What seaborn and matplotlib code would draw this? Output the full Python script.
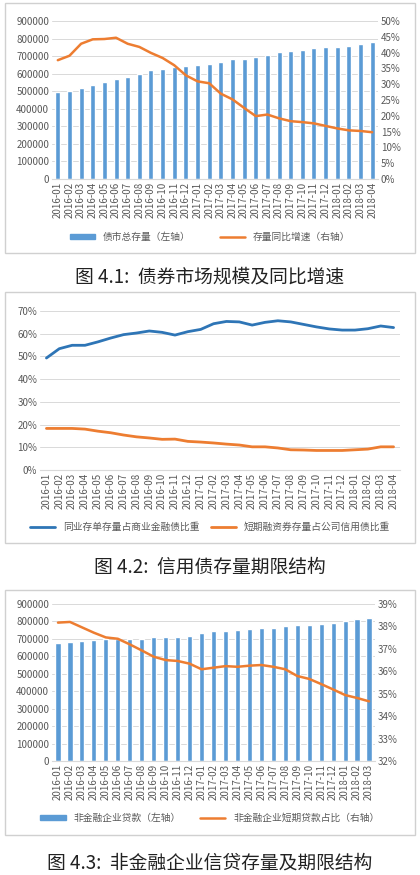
import numpy as np
import pandas as pd
import matplotlib
matplotlib.use('Agg')
import matplotlib.pyplot as plt
import seaborn as sns
from matplotlib.patches import Rectangle, Patch
from matplotlib.lines import Line2D
from matplotlib.ticker import FuncFormatter, MultipleLocator

sns.set_style('white')
plt.rcParams['font.family'] = ['Noto Sans CJK SC', 'DejaVu Sans']

# ---- data ----
months_a = ['2016-01', '2016-02', '2016-03', '2016-04', '2016-05', '2016-06', '2016-07',
            '2016-08', '2016-09', '2016-10', '2016-11', '2016-12', '2017-01', '2017-02',
            '2017-03', '2017-04', '2017-05', '2017-06', '2017-07', '2017-08', '2017-09',
            '2017-10', '2017-11', '2017-12', '2018-01', '2018-02', '2018-03', '2018-04']
months_c = months_a[:-1]

bond_stock = [495000, 502000, 521000, 536000, 555000, 570000, 583000, 598000, 619000, 625000,
              638000, 642000, 651000, 657000, 668000, 682000, 682000, 693000, 708000, 721000,
              731000, 735000, 744000, 754000, 754000, 759000, 769000, 778000]
bond_growth = [37.6, 39.0, 42.8, 44.2, 44.3, 44.7, 42.8, 41.8, 39.9, 38.3, 36.0, 32.8, 30.9, 30.3,
               27.0, 25.2, 22.5, 19.9, 20.4, 19.2, 18.3, 18.0, 17.6, 16.8, 16.0, 15.4, 15.2, 14.8]

ncd_share = [49.3, 53.4, 54.9, 54.9, 56.4, 58.1, 59.6, 60.3, 61.2, 60.6, 59.4, 60.9, 61.9, 64.4,
             65.4, 65.2, 63.8, 65.0, 65.7, 65.2, 64.1, 63.0, 62.1, 61.6, 61.6, 62.2, 63.4, 62.7]
cp_share = [18.3, 18.3, 18.3, 18.0, 17.1, 16.4, 15.4, 14.6, 14.1, 13.5, 13.6, 12.6, 12.3, 11.9,
            11.4, 11.0, 10.2, 10.2, 9.7, 8.9, 8.8, 8.6, 8.6, 8.6, 8.9, 9.2, 10.2, 10.2]

corp_loans = [675000, 684000, 690000, 694000, 698000, 702000, 702000, 702000, 711000, 713000,
              713000, 719000, 734000, 744000, 746000, 751000, 755000, 761000, 765000, 772000,
              778000, 780000, 788000, 790000, 805000, 815000, 820000]
short_share = [38.17, 38.20, 37.96, 37.72, 37.51, 37.45, 37.20, 36.93, 36.65, 36.50, 36.46, 36.34,
               36.09, 36.16, 36.23, 36.20, 36.25, 36.28, 36.20, 36.09, 35.79, 35.66, 35.43, 35.19,
               34.94, 34.81, 34.66]

BAR = '#5B9BD5'
ORANGE = '#ED7D31'
DARKBLUE = '#2E75B6'
GRID = '#D9D9D9'
TXT = '#595959'
FS = 7
W, H = 420, 875

fig = plt.figure(figsize=(W / 100, H / 100), dpi=100)


def fax(left, top, right, bottom):
    return fig.add_axes([left / W, 1 - bottom / H, (right - left) / W, (bottom - top) / H])


def panel(top, bottom):
    fig.add_artist(Rectangle((5 / W, 1 - bottom / H), 410 / W, (bottom - top) / H,
                             transform=fig.transFigure, fill=False, edgecolor='#D0D0D0', lw=1))


def caption(y, s):
    fig.text(0.5, 1 - y / H, s, ha='center', va='center', fontsize=13.5, color='#222222')


def style_axis(ax, labels):
    ax.set_xlim(-0.5, len(labels) - 0.5)
    ax.set_xticks(range(len(labels)))
    ax.set_xticklabels(labels, rotation=90, fontsize=FS, color=TXT)
    ax.tick_params(axis='y', labelsize=FS, colors=TXT, length=0, pad=2)
    ax.tick_params(axis='x', length=0, pad=2)
    ax.grid(axis='y', color=GRID, lw=0.7)
    ax.set_axisbelow(True)
    for s in ['top', 'right', 'left']:
        ax.spines[s].set_visible(False)
    ax.spines['bottom'].set_color(GRID)
    ax.set_xlabel('')
    ax.set_ylabel('')


def style_right(ax, n):
    ax.tick_params(axis='y', labelsize=FS, colors=TXT, length=0, pad=2)
    for s in ax.spines.values():
        s.set_visible(False)
    ax.set_ylabel('')
    ax.set_xlim(-0.5, n - 0.5)


pct0 = FuncFormatter(lambda v, p: f'{v:.0f}%')

# ---- 图 4.1 ----
panel(3, 253)
df1 = pd.DataFrame({'month': months_a, 'stock': bond_stock, 'growth': bond_growth,
                    'pos': np.arange(len(months_a))})
ax1 = fax(52, 21, 378, 179)
sns.barplot(data=df1, x='month', y='stock', color=BAR, width=0.43, ax=ax1, saturation=1)
style_axis(ax1, months_a)
ax1.set_ylim(0, 900000)
ax1.yaxis.set_major_locator(MultipleLocator(100000))
ax1b = ax1.twinx()
sns.lineplot(data=df1, x='pos', y='growth', color=ORANGE, lw=1.8, ax=ax1b)
ax1b.set_ylim(0, 50)
ax1b.yaxis.set_major_locator(MultipleLocator(5))
ax1b.yaxis.set_major_formatter(pct0)
style_right(ax1b, len(months_a))
fig.legend(handles=[Patch(color=BAR, label='债市总存量（左轴）'),
                    Line2D([], [], color=ORANGE, lw=1.8, label='存量同比增速（右轴）')],
           loc='center', bbox_to_anchor=(0.5, 1 - 237 / H), ncol=2, frameon=False,
           fontsize=FS, labelcolor=TXT, handlelength=2.6, handleheight=0.5, columnspacing=3)
caption(277, '图 4.1:  债券市场规模及同比增速')

# ---- 图 4.2 ----
panel(292, 543)
df2 = pd.DataFrame({'pos': np.arange(len(months_a)), 'ncd': ncd_share, 'cp': cp_share})
ax2 = fax(40, 311, 400, 470)
sns.lineplot(data=df2, x='pos', y='ncd', color=DARKBLUE, lw=2, ax=ax2)
sns.lineplot(data=df2, x='pos', y='cp', color=ORANGE, lw=2, ax=ax2)
style_axis(ax2, months_a)
ax2.set_ylim(0, 70)
ax2.yaxis.set_major_locator(MultipleLocator(10))
ax2.yaxis.set_major_formatter(pct0)
fig.legend(handles=[Line2D([], [], color=DARKBLUE, lw=2, label='同业存单存量占商业金融债比重'),
                    Line2D([], [], color=ORANGE, lw=2, label='短期融资券存量占公司信用债比重')],
           loc='center', bbox_to_anchor=(0.5, 1 - 527 / H), ncol=2, frameon=False,
           fontsize=FS, labelcolor=TXT, handlelength=2.6, columnspacing=1.2)
caption(567, '图 4.2:  信用债存量期限结构')

# ---- 图 4.3 ----
panel(590, 835)
df3 = pd.DataFrame({'month': months_c, 'loans': corp_loans, 'short': short_share,
                    'pos': np.arange(len(months_c))})
ax3 = fax(52, 604, 375, 761)
sns.barplot(data=df3, x='month', y='loans', color=BAR, width=0.43, ax=ax3, saturation=1)
style_axis(ax3, months_c)
ax3.set_ylim(0, 900000)
ax3.yaxis.set_major_locator(MultipleLocator(100000))
ax3b = ax3.twinx()
sns.lineplot(data=df3, x='pos', y='short', color=ORANGE, lw=1.8, ax=ax3b)
ax3b.set_ylim(32, 39)
ax3b.yaxis.set_major_locator(MultipleLocator(1))
ax3b.yaxis.set_major_formatter(pct0)
style_right(ax3b, len(months_c))
fig.legend(handles=[Patch(color=BAR, label='非金融企业贷款（左轴）'),
                    Line2D([], [], color=ORANGE, lw=1.8, label='非金融企业短期贷款占比（右轴）')],
           loc='center', bbox_to_anchor=(0.5, 1 - 818 / H), ncol=2, frameon=False,
           fontsize=FS, labelcolor=TXT, handlelength=2.6, handleheight=0.5, columnspacing=2)
caption(863, '图 4.3:  非金融企业信贷存量及期限结构')

fig.savefig('out.png', dpi=100, facecolor='white')
